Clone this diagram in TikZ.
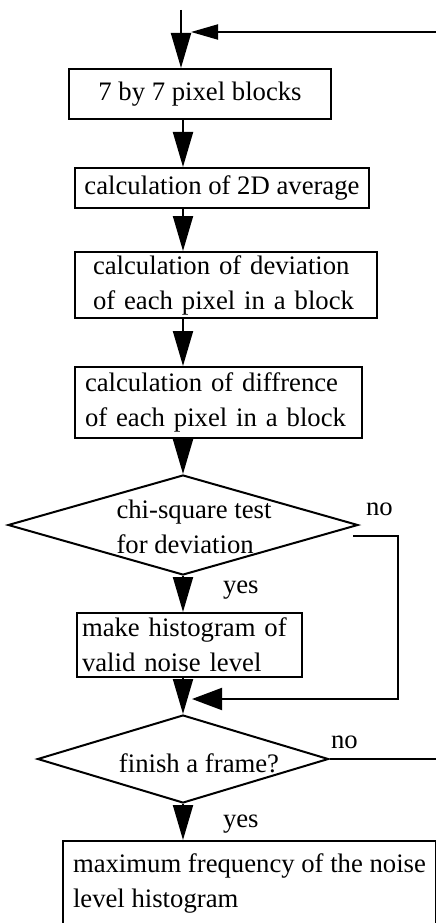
\documentclass[tikz,border=0pt]{standalone}
\usepackage{fontspec}
\setmainfont{Liberation Serif}
\usetikzlibrary{arrows.meta,shapes.geometric}
\begin{document}
\begin{tikzpicture}[x=1pt,y=-1pt, line width=2pt,
  every node/.style={font=\fontsize{26.7}{35}\selectfont},
  box/.style={draw, rectangle, inner ysep=0pt, align=left},
  dec/.style={draw, diamond, inner sep=0pt},
  arr/.style={-{Triangle[length=35pt,width=20pt]}},
  harrsmall/.style={-{Triangle[length=27pt,width=15pt]}},
  harr/.style={-{Triangle[length=30pt,width=22pt]}},
  lbl/.style={anchor=base west, inner sep=0pt}]
\useasboundingbox (0,0) rectangle (436,923);
\coordinate (ax) at (183,0);
\coordinate (top) at (181,10);
\coordinate (fbR) at (436,32);
\coordinate (j1) at (398,699);

\node[box, minimum width=262pt, minimum height=50pt] (b1) at (200,94) {7 by 7 pixel blocks};
\node[box, minimum width=294pt, minimum height=40pt] (b2) at (222,188) {calculation of 2D average};
\node[box, text width=266pt, inner xsep=18pt, minimum height=66pt] (b3) at (226,285) {calculation of deviation\\of each pixel in a block};
\node[box, text width=267pt, inner xsep=10pt, minimum height=71pt] (b4) at (218.5,402.5) {calculation of diffrence\\of each pixel in a block};
\node[dec, minimum width=350pt, minimum height=100pt] (d1) at (183,525) {};
\node[align=left, inner sep=0pt] (t1) at (194,527) {chi-square test\\for deviation};
\node[box, text width=215pt, inner xsep=5pt, minimum height=64pt] (b5) at (189.5,645) {make histogram of\\valid noise level};
\node[dec, minimum width=291pt, minimum height=88pt] (d2) at (183,759) {};
\node[anchor=base, inner sep=0pt] (t2) at (199,772) {finish a frame?};
\node[box, anchor=north west, inner xsep=10pt, inner ysep=13pt] (b6) at (62,840) {maximum frequency of the noise\\level histogram};

\node[lbl] (no1) at (365,515) {no};
\node[lbl] (yes1) at (222,593) {yes};
\node[lbl] (no2) at (330,748) {no};
\node[lbl] (yes2) at (222,827) {yes};

\draw[arr] (top) -- (top |- b1.north);
\draw[harrsmall] (fbR) -- ([xshift=10pt]top |- fbR);
\draw[arr] (b1.south -| ax) -- (b2.north -| ax);
\draw[arr] (b2.south -| ax) -- (b3.north -| ax);
\draw[arr] (b3.south -| ax) -- (b4.north -| ax);
\draw[arr] (b4.south -| ax) -- (d1.north);
\draw[arr] (d1.south) -- (b5.north -| d1.south);
\draw[arr] (b5.south -| ax) -- (d2.north);
\draw[arr] (d2.south) -- (b6.north -| d2.south);
\draw[harr] ([xshift=-6pt,yshift=-11pt]d1.east) -| (j1) -- ([xshift=9pt]j1 -| ax);
\draw (d2.east) -- (d2.east -| fbR);
\end{tikzpicture}
\end{document}
